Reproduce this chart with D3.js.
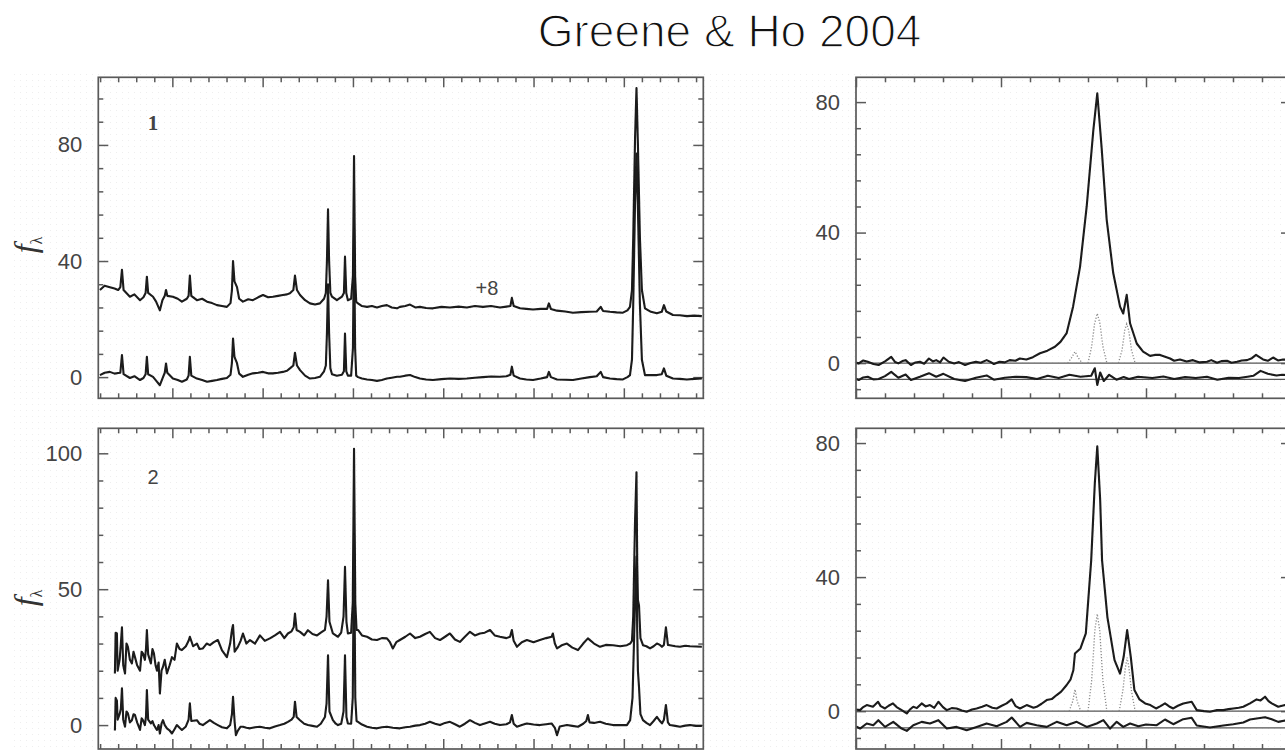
<!DOCTYPE html>
<html>
<head>
<meta charset="utf-8">
<script src="https://cdn.jsdelivr.net/npm/d3@7"></script>
<style>
  body { margin: 0; background: #fff; }
  svg { display: block; }
</style>
</head>
<body>
<div id="chart"></div>
<script>
// ---- data (wavelength in Angstrom, flux f_lambda) ----
const titleText = "Greene & Ho 2004";

const leftMajorX = [4000, 4500, 5000, 5500, 6000, 6500];
const rightMajorX = [6400, 6500, 6600, 6700];
const tickLabelsTop = ["0", "40", "80"];
const tickValuesTop = [0, 40, 80];
const tickLabelsBottomLeft = ["0", "50", "100"];
const tickValuesBottomLeft = [0, 50, 100];
const panelNames = ["1", "2"];
const offsetNote = "+8";

// object 1, upper trace
const spec1Upper = [[3599,30],[3625,31.5],[3654,31],[3680,30.5],[3700,30],[3712,31],[3721,37],[3730,30],[3765,27.7],[3790,28.5],[3821,26.5],[3840,27.5],[3852,29],[3859,34.6],[3866,29],[3893,27.7],[3910,26],[3931,23],[3945,26.5],[3958,28],[3965,30],[3972,28],[4003,27.7],[4030,27],[4053,26],[4080,27],[4090,28],[4097,35],[4105,28],[4136,26.5],[4165,27],[4192,26],[4220,25.5],[4247,24.8],[4275,24.5],[4302,24.2],[4322,25.5],[4330,30],[4336,40],[4344,33],[4358,31],[4370,27],[4391,26],[4420,26.8],[4446,26.5],[4475,27.5],[4502,28.3],[4530,27.5],[4557,27.7],[4585,28],[4612,28.3],[4635,28.5],[4651,28.9],[4670,30],[4679,35],[4690,30],[4707,28.3],[4735,26.5],[4762,25.4],[4790,25],[4817,25.4],[4840,27],[4850,29],[4856,40],[4862,57.8],[4868,40],[4875,29],[4884,27.7],[4911,26.5],[4939,27.7],[4950,29],[4956,41.5],[4963,29],[4972,26.5],[4990,27],[5000,35],[5006,76.2],[5012,35],[5018,26],[5028,25.4],[5050,24.5],[5078,24.2],[5105,24.5],[5133,24],[5160,24.5],[5188,24.8],[5215,24],[5244,23.7],[5260,24.2],[5290,24.5],[5316,25],[5345,24],[5371,24.2],[5405,23.8],[5443,23.7],[5490,24.2],[5537,24],[5585,24.3],[5631,24],[5675,24.5],[5720,24.2],[5765,24.5],[5814,24],[5850,24.3],[5872,24.5],[5880,27.3],[5890,24.5],[5925,23.7],[5960,23.5],[5997,23.3],[6040,23.5],[6075,23.5],[6085,25.4],[6096,23.5],[6130,22.9],[6175,22.6],[6218,22.2],[6265,22.4],[6312,22.5],[6350,22.6],[6372,24.2],[6385,22.8],[6423,22.5],[6460,22.3],[6495,22.2],[6520,23],[6534,24.2],[6545,30],[6552,48],[6562,82],[6570,99.6],[6578,80],[6589,48],[6600,30],[6617,23.7],[6650,22.5],[6683,22],[6710,22.5],[6722,24.8],[6735,22.6],[6772,21.4],[6810,21.3],[6849,21],[6890,21.2],[6932,21]];

// object 1, lower trace
const spec1Lower = [[3599,0.7],[3625,1.5],[3654,1.8],[3680,1.2],[3700,1.4],[3712,1.5],[3721,7.6],[3730,1],[3765,-0.3],[3790,0.3],[3821,-1],[3840,-0.3],[3852,1],[3859,7],[3866,1],[3893,0.1],[3910,-1.2],[3931,-2.8],[3945,-0.5],[3958,1.5],[3965,4.7],[3972,1.5],[4003,-0.5],[4030,-1],[4053,-1.6],[4080,-0.8],[4090,0.5],[4097,7],[4105,0.5],[4136,-0.5],[4165,-1],[4192,-1.6],[4220,-1.3],[4247,-1],[4275,-0.6],[4302,-0.3],[4322,0.8],[4330,5],[4336,13.3],[4344,7],[4358,4.8],[4370,1.2],[4391,0.1],[4420,0.8],[4446,1.3],[4475,1.5],[4502,1.8],[4530,1.3],[4557,1.3],[4585,1.5],[4612,1.8],[4635,2.2],[4651,3],[4670,4],[4679,8.4],[4690,4],[4707,2.4],[4735,0.5],[4762,-0.5],[4790,-0.3],[4817,0.1],[4840,2],[4850,4],[4856,15],[4862,32],[4868,15],[4875,3],[4884,1],[4911,0.5],[4939,0.8],[4950,2],[4956,15],[4963,2],[4972,0.5],[4990,0.5],[5000,10],[5006,51],[5012,10],[5018,0.5],[5028,0],[5050,-0.5],[5078,-0.8],[5105,-1],[5133,-1.3],[5160,-1],[5188,-0.5],[5215,-0.2],[5244,0.1],[5260,0.1],[5290,0.5],[5316,0.7],[5345,0],[5371,-0.5],[5405,-0.8],[5443,-1],[5490,-0.7],[5537,-0.5],[5585,-0.6],[5631,-0.5],[5675,-0.2],[5720,0],[5765,0.2],[5814,0.1],[5850,0.3],[5872,0.8],[5880,3.6],[5890,0.5],[5925,-0.5],[5960,-0.8],[5997,-1],[6040,-0.5],[6075,0],[6085,1.8],[6096,0],[6130,-0.8],[6175,-0.9],[6218,-1],[6265,-0.5],[6312,0],[6350,0.3],[6372,1.8],[6385,0],[6423,-0.5],[6460,-0.7],[6495,-0.8],[6520,0],[6534,0.7],[6545,6],[6552,25],[6562,60],[6570,77],[6578,58],[6589,25],[6600,6],[6617,0.7],[6650,0.7],[6683,0.7],[6710,1],[6722,3],[6735,0.5],[6772,-0.5],[6810,-0.6],[6849,-0.8],[6890,-0.6],[6932,-0.5]];

// object 2, upper trace
const spec2Upper = [[3682,19],[3686,34],[3693,33.7],[3697,20],[3708,24],[3715,30],[3721,36],[3728,22],[3738,19],[3746,30],[3754,28.8],[3765,24],[3776,22.7],[3785,27],[3793,25],[3805,22],[3821,20],[3830,27],[3837,26.4],[3848,24],[3854,28],[3859,35],[3866,26],[3881,22.7],[3890,28],[3898,26.4],[3907,22],[3915,20],[3924,23],[3931,11.6],[3940,20],[3948,21.4],[3958,24],[3970,19],[3985,22],[3998,25],[4012,24],[4025,30],[4040,28],[4053,27.6],[4075,29],[4090,31],[4097,32.5],[4115,29],[4136,30],[4150,28],[4169,28.2],[4190,30],[4208,29.4],[4230,30.5],[4252,31.3],[4275,27.5],[4302,25],[4320,30],[4330,35],[4336,36.8],[4345,27],[4363,28.8],[4378,31],[4391,33.7],[4410,30],[4430,31.3],[4458,30],[4485,33],[4512,31],[4540,31.9],[4568,33],[4596,34.3],[4620,32],[4640,33.7],[4660,34.5],[4672,36],[4679,41],[4688,35],[4707,34.3],[4730,33],[4751,34.9],[4776,33.5],[4801,33],[4822,34],[4845,35],[4854,40],[4862,53.3],[4870,38],[4889,33.7],[4905,33],[4917,32.5],[4935,34],[4948,40],[4956,58.2],[4964,38],[4972,33.7],[4990,34],[4999,45],[5006,101.7],[5013,45],[5020,35],[5028,35],[5050,33],[5078,32.5],[5105,31.5],[5133,31.3],[5160,32],[5188,31.9],[5205,30.5],[5221,28.2],[5240,30.5],[5260,31.3],[5290,32.5],[5316,33.7],[5345,32],[5371,32.5],[5400,33.5],[5426,34.3],[5455,32],[5482,31.3],[5510,32.5],[5537,33.7],[5565,31.5],[5592,30.6],[5620,32.5],[5648,34.3],[5675,33],[5703,33.7],[5730,34],[5759,35],[5785,33],[5814,32.5],[5850,32],[5870,32.5],[5880,35],[5890,31],[5908,28.8],[5935,30.5],[5963,31.3],[6000,30.5],[6035,31.3],[6070,32],[6100,32.5],[6107,33.7],[6118,30],[6130,28.2],[6160,29.5],[6185,30],[6215,28.5],[6246,27.6],[6275,30],[6301,31.9],[6335,30],[6368,28.8],[6400,29.5],[6440,29.4],[6480,29],[6517,29.4],[6535,30],[6545,31],[6552,40],[6562,75],[6570,93],[6574,60],[6578,46],[6584,44],[6592,32],[6606,29.4],[6625,29],[6645,28.2],[6665,29],[6683,30],[6700,29.5],[6711,28.8],[6722,29.5],[6733,36],[6744,29.5],[6755,29.4],[6785,29],[6811,28.8],[6840,29.2],[6866,29],[6900,28.9],[6932,28.8]];

// object 2, lower trace
const spec2Lower = [[3682,-2],[3686,10],[3693,9],[3697,2],[3708,4],[3715,6],[3721,13.5],[3728,2],[3738,-0.6],[3746,5],[3754,4.3],[3765,1],[3776,1.8],[3785,4],[3793,3.7],[3805,1],[3821,-1.8],[3830,2.5],[3837,1.8],[3848,0],[3854,3],[3859,12.9],[3866,2],[3881,0.6],[3890,1.5],[3898,0],[3907,-1],[3915,-1.8],[3924,0],[3931,-3.1],[3940,0.5],[3948,1.8],[3958,0],[3970,-1.2],[3985,-2],[3998,-3.1],[4012,-1.5],[4025,0],[4040,-1],[4053,-1.8],[4075,-0.5],[4090,2],[4097,8],[4105,1.5],[4136,1.8],[4150,0.5],[4169,0],[4190,1],[4208,1.8],[4230,0.8],[4252,0],[4275,-0.8],[4302,-1.2],[4320,0],[4330,4],[4336,10.4],[4345,1],[4352,-3.7],[4363,-2],[4378,-0.6],[4391,-0.6],[4410,-1],[4430,-1.2],[4458,-0.8],[4485,-0.6],[4512,-1],[4540,-1.2],[4568,-0.5],[4596,0],[4620,0.5],[4640,1.2],[4660,2],[4672,3],[4679,8.6],[4688,3],[4707,1.8],[4730,0.5],[4751,0],[4776,-0.3],[4801,-0.6],[4822,0.5],[4845,3],[4854,8],[4862,25.7],[4870,5],[4889,1.8],[4905,0.5],[4917,0],[4935,0.5],[4948,5],[4956,25.7],[4964,3],[4972,0.6],[4990,0.5],[4999,10],[5006,70],[5013,10],[5020,1.5],[5028,1.2],[5050,0.2],[5078,-0.6],[5105,-1],[5133,-1.2],[5160,-0.8],[5188,-0.6],[5221,-1],[5260,-1.2],[5290,-0.8],[5316,-0.6],[5345,-0.2],[5371,0],[5400,0.5],[5426,1.2],[5455,0.5],[5482,0],[5510,0.8],[5537,1.2],[5565,0.3],[5592,-0.6],[5620,0.5],[5648,1.8],[5675,0.8],[5703,0],[5730,0.6],[5759,1.2],[5785,0.5],[5814,0],[5850,0.3],[5870,1],[5880,3.7],[5890,0.5],[5908,-0.6],[5935,0],[5963,0.6],[6000,0.2],[6035,0],[6070,0.3],[6100,0.6],[6118,-1],[6130,-3.7],[6145,-0.5],[6185,0],[6215,-0.3],[6246,-0.6],[6275,0.5],[6292,1.5],[6301,3.7],[6310,1],[6335,0.8],[6368,1.2],[6400,0.5],[6440,0],[6480,0],[6517,0],[6535,1.8],[6548,10],[6562,45],[6570,62],[6574,35],[6578,20],[6584,14],[6592,4],[6606,1.8],[6625,0.8],[6645,0],[6665,1.5],[6683,3],[6700,1.5],[6711,0.6],[6722,2],[6733,7.4],[6744,1],[6755,0],[6785,-0.3],[6811,-0.6],[6840,-0.2],[6866,0],[6900,-0.3],[6932,-0.3]];

// H-alpha fits, object 1
const halpha1 = [[6400,0.2],[6401.9,-0.1],[6405,0.8],[6408.1,0.4],[6412,-0.3],[6415.6,-0.6],[6420,0.5],[6424.3,1.9],[6427,0.3],[6429.2,-0.1],[6432,0.6],[6434.2,0.9],[6437.9,-0.6],[6441,0.2],[6444.1,0.4],[6447,-0.2],[6450.3,1.4],[6453,0.5],[6455.3,0.9],[6458,0.2],[6460.3,1.7],[6464,0.4],[6467.7,-0.1],[6471,0.3],[6475.2,-0.6],[6479,0],[6482.7,0.4],[6486,0.1],[6490.1,0.9],[6493,0.3],[6495.1,-0.3],[6499,0.4],[6502.6,0.2],[6506,0.9],[6510,0.7],[6513,1.4],[6517.5,1.1],[6522,1.8],[6526.9,3],[6532,3.8],[6537.2,5],[6541,6.5],[6545.3,9.2],[6549.7,17.3],[6554.5,29.5],[6559.1,48],[6563.7,71.5],[6566.4,82.7],[6569.4,66],[6572.9,43.9],[6577.4,27.6],[6582.1,17.3],[6584.3,15.2],[6586.7,20.9],[6589,12.2],[6593.6,6],[6598,3.5],[6602.8,2.2],[6606,2.5],[6609.7,2.5],[6616.6,1.4],[6619.4,0.7],[6623.4,1.1],[6628,0.5],[6632.4,0.9],[6637,0.2],[6642.1,0.4],[6645,0.9],[6649,0.1],[6652,0.6],[6655.9,0.7],[6659,0.1],[6662.8,0.4],[6666,0.8],[6669.7,0.9],[6673,1.5],[6675.9,2.5],[6678,1.9],[6680.7,1.1],[6684,0.7],[6687.6,1.7],[6691,0.8],[6694.5,1.1],[6700,1.0]];
const resid1 = [[6400,-4.8],[6401.9,-5.2],[6405,-4.4],[6408.1,-4.2],[6412,-5],[6415.6,-4.9],[6420,-4],[6424.3,-2.7],[6429.2,-4.5],[6434.2,-3.5],[6437.9,-5.2],[6444.1,-4.2],[6450.3,-3.1],[6455.3,-4.2],[6460.3,-3.3],[6467.7,-4.9],[6475.2,-5.5],[6482.7,-4.5],[6490.1,-3.8],[6495.1,-5.1],[6502.6,-4.5],[6510,-4.2],[6517.5,-4.3],[6524.9,-4.9],[6532.3,-3.9],[6539.8,-4.6],[6547.2,-3.6],[6554.8,-4.2],[6562.2,-3.9],[6564.7,-1.6],[6566.4,-6.7],[6568.4,-2.9],[6570.9,-5.5],[6574.6,-3.6],[6579.6,-5.1],[6584.6,-4.3],[6588.3,-4.9],[6594.5,-4.2],[6604.4,-4.6],[6612,-4.1],[6619.4,-4.9],[6627,-4.3],[6634.3,-4.6],[6642,-4.2],[6649.2,-5.1],[6657,-4.5],[6664.1,-4.6],[6670,-4.2],[6674,-3.9],[6679,-2.4],[6684,-3.3],[6690,-3.8],[6693.9,-3.6],[6700,-3.8]];
const narrow1a = [[6546,0],[6548.5,1.5],[6551,3.5],[6553.5,1.5],[6556,0]];
const narrow1b = [[6560,0],[6562.5,5],[6564.5,12],[6566.4,15.2],[6568.3,12],[6570.3,5],[6573,0]];
const narrow1c = [[6581,0],[6583.5,4],[6585.3,10],[6586.7,12],[6588.1,10],[6590,4],[6592.5,0]];

// H-alpha fits, object 2
const halpha2 = [[6400,0.5],[6402.8,0.3],[6405,1.2],[6407.4,1.8],[6411.7,1.3],[6415.2,2.8],[6417,1.5],[6420,0.8],[6422.5,1.6],[6425.5,2.3],[6428,1.2],[6431.5,0.3],[6435,-0.7],[6437,0.4],[6439.5,1.3],[6442,0.9],[6445.3,2.3],[6448,1.4],[6451,1.8],[6454,1],[6456.8,2.8],[6460,1.2],[6462.6,0.3],[6466,0.9],[6469.4,0.8],[6473,0.2],[6476.3,-0.2],[6480,0.5],[6483.2,0.8],[6487,1.3],[6490.1,1.8],[6494,1],[6497,0.8],[6500.5,1.6],[6503.9,2.3],[6507.4,3.5],[6510,1.5],[6513.1,0.8],[6517.7,1.8],[6522.4,1],[6524.6,1.3],[6528,2.2],[6531.5,3.3],[6535,3.6],[6538.4,4.8],[6541.5,5.8],[6545.3,7.8],[6548,9.5],[6549.9,12.2],[6551,17.2],[6554.8,18.7],[6558.5,23.2],[6562.2,45],[6564.7,68],[6566.4,79],[6568.4,63],[6569.7,45],[6573.4,28],[6578.3,15.2],[6582.1,11.2],[6584.6,16.2],[6587,24.2],[6589.5,16.2],[6592,6.3],[6595.5,3.5],[6599.4,2.3],[6603,1.8],[6606.9,0.8],[6610,1.5],[6613.1,2.3],[6616,1.4],[6618.8,0.8],[6622,1.6],[6625.7,2.3],[6631.5,2.8],[6635,0.3],[6640,0],[6644.1,-0.2],[6649,0.3],[6653.3,0.3],[6657,0.6],[6660.2,0.8],[6664,1],[6667.1,1.3],[6671.7,2.3],[6676.3,3.5],[6679,3.2],[6682.1,4.3],[6684.5,3],[6686.7,2.3],[6691.2,1.3],[6695.9,1.8],[6700,1.5]];
const resid2 = [[6400,-4.6],[6402.8,-5.2],[6407.4,-3.7],[6411.9,-4.2],[6415.4,-2.7],[6420,-4.7],[6425.7,-3.2],[6431.5,-5.2],[6435,-5.9],[6439.5,-4.2],[6445.3,-3.2],[6451,-3.7],[6456.8,-2.7],[6462.6,-5.2],[6469.4,-4.7],[6476.3,-5.7],[6483.2,-4.7],[6490.1,-3.7],[6497,-4.5],[6503.9,-3.2],[6507.4,-1.9],[6513.1,-4.7],[6517.7,-3.5],[6524.6,-4.2],[6531.5,-4.7],[6538.4,-3.2],[6545.3,-4.2],[6552.2,-3.2],[6559.1,-4.7],[6566,-3.7],[6570.6,-2.7],[6575.2,-5.2],[6579.8,-3.2],[6584.3,-4.7],[6589,-3.7],[6594.7,-4.5],[6600,-4],[6607.4,-4.2],[6613.1,-2.5],[6618.8,-3.9],[6625.7,-2.4],[6631.5,-2],[6635,-4.3],[6644.1,-4.9],[6653.3,-4.3],[6660.2,-3.9],[6667.1,-3.4],[6671.7,-2.5],[6676.3,-2.2],[6682.1,-1.8],[6686.7,-2.4],[6691.2,-3.2],[6695.9,-2.8],[6700,-3]];
const narrow2a = [[6547,0],[6549.5,3],[6551,6.5],[6552.5,3],[6555,0]];
const narrow2b = [[6560,0],[6562.5,9],[6564.7,24],[6566.4,29],[6568.1,24],[6570.3,9],[6573,0]];
const narrow2c = [[6581.5,0],[6584,6],[6585.8,13],[6587,16],[6588.2,13],[6590,6],[6592.5,0]];

const zeroLevel = 0;
const residLevel = -5;

// ---- drawing ----
const W = 1285, H = 750;
const svg = d3.select("#chart").append("svg")
    .attr("width", W)
    .attr("height", H);

let defs = svg.append("defs");

// very faint scan texture behind the figure
let pat = defs.append("pattern").attr("id", "scan")
    .attr("width", 6).attr("height", 6).attr("patternUnits", "userSpaceOnUse");
pat.append("rect").attr("x", 2).attr("y", 2).attr("width", 1).attr("height", 1).attr("fill", "#eeeeee");

// soft blur, the source is a scan
defs.append("filter").attr("id", "soft")
    .append("feGaussianBlur").attr("stdDeviation", 0.45);

svg.append("rect").attr("width", W).attr("height", H).attr("fill", "#fff");
svg.append("rect").attr("x", 12).attr("y", 72).attr("width", W - 12).attr("height", H - 72)
    .attr("fill", "url(#scan)");

const clipId = (i) => "clip" + i;

const panels = [
    { box: [98.3, 703.3, 77.3, 398.3], xDom: [3590, 6940], yDom: [-7.3, 103.3],
      xMajor: leftMajorX, xMinor: 100, yMajor: tickValuesTop, yLabels: tickLabelsTop, yMinor: 8,
      traces: [spec1Upper, spec1Lower] },
    { box: [98.3, 703.3, 428.3, 749], xDom: [3590, 6940], yDom: [-8.8, 109.2],
      xMajor: leftMajorX, xMinor: 100, yMajor: tickValuesBottomLeft, yLabels: tickLabelsBottomLeft, yMinor: 10,
      traces: [spec2Upper, spec2Lower] },
    { box: [856, 1291, 77.3, 398.3], xDom: [6400, 6700], yDom: [-10.8, 87.6],
      xMajor: rightMajorX, xMinor: 20, yMajor: tickValuesTop, yLabels: tickLabelsTop, yMinor: 8,
      traces: [halpha1, resid1], dotted: [narrow1a, narrow1b, narrow1c], refs: [zeroLevel, residLevel] },
    { box: [856, 1291, 428.3, 749], xDom: [6400, 6700], yDom: [-11.3, 84.4],
      xMajor: rightMajorX, xMinor: 20, yMajor: tickValuesTop, yLabels: tickLabelsTop, yMinor: 8,
      traces: [halpha2, resid2], dotted: [narrow2a, narrow2b, narrow2c], refs: [zeroLevel, residLevel] }
];

const frameColor = "#5a5a5a";

panels.forEach((p, i) => {
    let [x0, x1, y0, y1] = p.box;
    let x = d3.scaleLinear().domain(p.xDom).range([x0, x1]);
    let y = d3.scaleLinear().domain(p.yDom).range([y1, y0]);

    defs.append("clipPath").attr("id", clipId(i))
        .append("rect").attr("x", x0).attr("y", y0).attr("width", x1 - x0).attr("height", y1 - y0);

    let g = svg.append("g");

    let xMinorVals = d3.range(Math.ceil(p.xDom[0] / p.xMinor) * p.xMinor, p.xDom[1] + 0.01, p.xMinor)
        .filter(v => p.xMajor.indexOf(v) < 0);
    let yMinorVals = d3.range(Math.ceil(p.yDom[0] / p.yMinor) * p.yMinor, p.yDom[1], p.yMinor)
        .filter(v => p.yMajor.indexOf(v) < 0);

    function tickAxis(axisFn, scale, vals, len, tx, ty) {
        let a = axisFn(scale).tickValues(vals).tickSizeInner(-len).tickSizeOuter(0).tickFormat("");
        let ag = g.append("g").attr("transform", `translate(${tx},${ty})`).call(a);
        ag.select(".domain").remove();
        ag.selectAll("line").attr("stroke", frameColor).attr("stroke-width", 1.5);
    }

    tickAxis(d3.axisBottom, x, p.xMajor, 10, 0, y1);
    tickAxis(d3.axisBottom, x, xMinorVals, 5, 0, y1);
    tickAxis(d3.axisTop, x, p.xMajor, 10, 0, y0);
    tickAxis(d3.axisTop, x, xMinorVals, 5, 0, y0);
    tickAxis(d3.axisLeft, y, p.yMajor, 10, x0, 0);
    tickAxis(d3.axisLeft, y, yMinorVals, 5, x0, 0);
    tickAxis(d3.axisRight, y, p.yMajor, 10, x1, 0);
    tickAxis(d3.axisRight, y, yMinorVals, 5, x1, 0);

    // y labels
    let la = d3.axisLeft(y).tickValues(p.yMajor).tickSize(0).tickPadding(16)
        .tickFormat((d, k) => p.yLabels[k]);
    let lg = g.append("g").attr("transform", `translate(${x0},0)`).call(la);
    lg.select(".domain").remove();
    lg.selectAll("text")
        .style("font-family", "'Liberation Sans', Arial, sans-serif")
        .style("font-size", "22px")
        .attr("fill", "#444");

    let plot = g.append("g").attr("clip-path", `url(#${clipId(i)})`);

    if (p.refs) {
        plot.selectAll("line.ref").data(p.refs).join("line")
            .attr("class", "ref")
            .attr("x1", x0).attr("x2", x1)
            .attr("y1", d => y(d)).attr("y2", d => y(d))
            .attr("stroke", "#555").attr("stroke-width", 1.3);
    }

    let line = d3.line().x(d => x(d[0])).y(d => y(d[1]));

    if (p.dotted) {
        plot.selectAll("path.dot").data(p.dotted).join("path")
            .attr("class", "dot")
            .attr("d", line)
            .attr("fill", "none")
            .attr("stroke", "#8a8a8a")
            .attr("stroke-width", 1.3)
            .attr("stroke-dasharray", "1.2,1.8");
    }

    plot.append("g").attr("filter", "url(#soft)")
        .selectAll("path.spec").data(p.traces).join("path")
        .attr("class", "spec")
        .attr("d", line)
        .attr("fill", "none")
        .attr("stroke", "#1a1a1a")
        .attr("stroke-width", 2.1)
        .attr("stroke-linejoin", "round");

    g.append("rect")
        .attr("x", x0).attr("y", y0)
        .attr("width", x1 - x0).attr("height", y1 - y0)
        .attr("fill", "none")
        .attr("stroke", frameColor)
        .attr("stroke-width", 1.7);
});

// title (thin strokes, like a light face)
svg.append("text")
    .attr("x", 729.5).attr("y", 47)
    .attr("text-anchor", "middle")
    .style("font-family", "'Liberation Sans', 'Helvetica Neue', Arial, sans-serif")
    .style("font-size", "46px")
    .attr("fill", "#111")
    .attr("stroke", "#fff")
    .attr("stroke-width", 1.3)
    .text(titleText);

// panel numbers and offset note
const noteFont = "'Liberation Serif', 'Times New Roman', serif";
svg.append("text").attr("x", 153).attr("y", 130).attr("text-anchor", "middle")
    .style("font-family", noteFont).style("font-size", "21px").style("font-weight", "bold")
    .attr("fill", "#444").text(panelNames[0]);
svg.append("text").attr("x", 153).attr("y", 484).attr("text-anchor", "middle")
    .style("font-family", "'Liberation Sans', Arial, sans-serif").style("font-size", "20px")
    .attr("fill", "#444").text(panelNames[1]);
svg.append("text").attr("x", 487).attr("y", 295).attr("text-anchor", "middle")
    .style("font-family", "'Liberation Sans', Arial, sans-serif").style("font-size", "20px")
    .attr("fill", "#444").text(offsetNote);

// y-axis symbol f_lambda
[245, 598].forEach(cy => {
    let t = svg.append("text")
        .attr("transform", `translate(36,${cy}) rotate(-90)`)
        .attr("text-anchor", "middle")
        .style("font-family", noteFont)
        .style("font-size", "32px")
        .attr("fill", "#333");
    t.append("tspan").style("font-style", "italic").text("f");
    t.append("tspan").attr("dy", 6).style("font-size", "16px").text("λ");
});
</script>
</body>
</html>
